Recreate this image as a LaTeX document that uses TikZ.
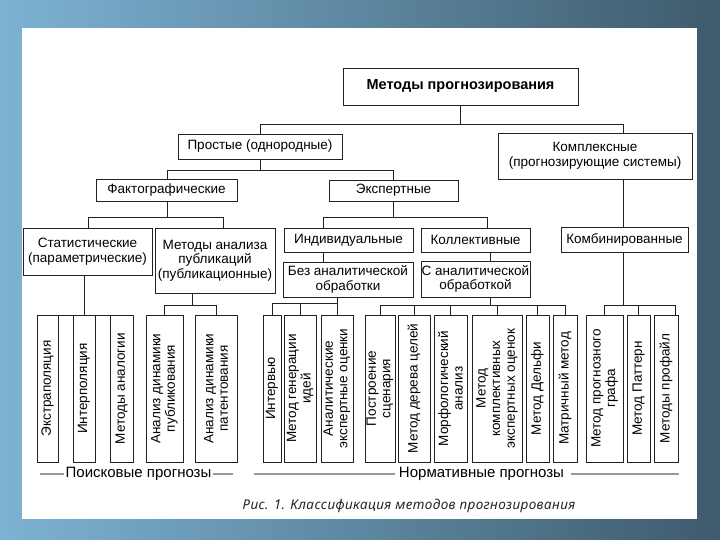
\documentclass[tikz,border=0pt]{standalone}
\usepackage{fontspec}
\setmainfont{Liberation Sans}
\newfontfamily\capfont{Noto Sans}[LetterSpace=3]
\definecolor{bgl}{HTML}{7DB2D4}
\definecolor{bgd}{HTML}{3E5B6C}
\definecolor{ln}{HTML}{222222}
\newcommand{\mf}{\fontsize{13.5}{14.5}\selectfont}
\newcommand{\blf}{\fontsize{15}{16}\selectfont}
\tikzset{
  box/.style={draw=ln, line width=0.8pt, fill=white, inner sep=0pt, outer sep=0pt, align=center, font=\mf},
  leafbox/.style={draw=ln, line width=0.8pt, fill=white, inner sep=0pt, outer sep=0pt},
  leaftext/.style={rotate=90, align=center, font=\mf, inner sep=0pt},
  conn/.style={draw=ln, line width=0.8pt},
  grayline/.style={draw=black!40, line width=1.6pt},
  bottomlabel/.style={font=\blf, inner sep=1pt}
}
% box by corners: name, x1, y1, x2, y2, text
\newcommand{\bx}[6]{\node[box, minimum width={(#4-#2)*1pt}, minimum height={(#5-#3)*1pt}] (#1) at ({(#2+#4)/2},{(#3+#5)/2}) {#6};}
% leaf by x-range: name, x1, x2, text
\newcommand{\lf}[4]{\node[leafbox, minimum width={(#3-#2)*1pt}, minimum height=147pt, label={[leaftext]center:{#4}}] (#1) at ({(#2+#3)/2},388.5) {};}
\begin{document}
\begin{tikzpicture}[x=1pt,y=-1pt]
\useasboundingbox (0,0) rectangle (720,540);
\shade[left color=bgl, right color=bgd] (0,0) rectangle (720,540);
\fill[white] (22,28) rectangle (697,519);

\bx{top}{343}{68}{578}{105}{\fontsize{14.5}{15}\selectfont\bfseries Методы прогнозирования}
\bx{prost}{178}{134}{342}{159}{Простые (однородные)}
\bx{kompl}{498}{133}{692}{179}{Комплексные\\(прогнозирующие системы)}
\bx{fakt}{96}{179}{237}{201}{Фактографические}
\bx{expert}{329}{180}{458}{201}{Экспертные}
\bx{stat}{23}{228}{152}{275}{Статистические\\(параметрические)}
\bx{publ}{155}{228}{275}{293}{Методы анализа\\публикаций\\(публикационные)}
\bx{indiv}{284}{228}{413}{252}{Индивидуальные}
\bx{koll}{421}{228}{530}{252}{Коллективные}
\bx{kombin}{561}{227}{688}{252}{Комбинированные}
\bx{bez}{283}{262}{413}{297}{Без аналитической\\обработки}
\bx{sanal}{421}{261}{530}{297}{С аналитической\\обработкой}

\lf{L1}{37}{58}{Экстраполяция}
\lf{L2}{73}{95}{Интерполяция}
\lf{L3}{110}{133}{Методы аналогии}
\lf{L4}{146}{183}{Анализ динамики\\публикования}
\lf{L5}{195}{237}{Анализ динамики\\патентования}
\lf{L6}{263}{281}{Интервью}
\lf{L7}{284}{316}{Метод генерации\\идей}
\lf{L8}{321}{353}{Аналитические\\экспертные оценки}
\lf{L9}{365}{395}{Построение\\сценария}
\lf{L10}{398}{430}{Метод дерева целей}
\lf{L11}{434}{467}{Морфологический\\анализ}
\lf{L12}{472}{522}{Метод\\комплективных\\экспертных оценок}
\lf{L13}{526}{549}{Метод Дельфи}
\lf{L14}{553}{577}{Матричный метод}
\lf{L15}{586}{623}{Метод прогнозного\\графа}
\lf{L16}{627}{650}{Метод Паттерн}
\lf{L17}{654}{678}{Методы профайл}

% level 1
\coordinate (a1) at (260,124);
\coordinate (a2) at (623,124);
\draw[conn] (top.south) -- (top.south |- a1);
\draw[conn] (prost.north) -- (a1) -- (a2) -- (a2 |- kompl.north);
% level 2
\coordinate (b1) at (167,170);
\coordinate (b2) at (393,170);
\draw[conn] (prost.south) -- (prost.south |- b1);
\draw[conn] (fakt.north -| b1) -- (b1) -- (b2) -- (expert.north -| b2);
% fakt children
\coordinate (c1) at (88,217);
\coordinate (c2) at (223,217);
\draw[conn] (fakt.south -| b1) -- (b1 |- c1);
\draw[conn] (stat.north -| c1) -- (c1) -- (c2) -- (publ.north -| c2);
% expert children
\coordinate (d1) at (323,217);
\coordinate (d2) at (487,217);
\draw[conn] (expert.south -| b2) -- (b2 |- d1);
\draw[conn] (indiv.north -| d1) -- (d1) -- (d2) -- (koll.north -| d2);
\draw[conn] (indiv.south -| d1) -- (bez.north -| d1);
\coordinate (e1) at (490,252);
\draw[conn] (koll.south -| e1) -- (sanal.north -| e1);
\draw[conn] (kompl.south -| a2) -- (kombin.north -| a2);
% leaves of stat
\draw[conn] (stat.south -| L2.north) -- (L2.north);
\draw[conn] (L1.north west) -- (L3.north east);
% leaves of publ
\coordinate (f1) at (192,305);
\draw[conn] (publ.south -| f1) -- (f1);
\draw[conn] (L4.north) -- (L4.north |- f1) -- (L5.north |- f1) -- (L5.north);
% leaves of bez
\coordinate (g1) at (337,303);
\draw[conn] (bez.south -| g1) -- (g1);
\draw[conn] (L6.north) -- (L6.north |- g1) -- (g1) -- (L8.north);
\draw[conn] (L7.north) -- (L7.north |- g1);
% leaves of sanal
\coordinate (h1) at (490,305);
\draw[conn] (sanal.south -| h1) -- (h1);
\draw[conn] (L9.north) -- (L9.north |- h1) -- (L14.north |- h1) -- (L14.north);
\foreach \n in {L10,L11,L12,L13} \draw[conn] (\n.north) -- (\n.north |- h1);
% leaves of kombin
\coordinate (k1) at (623,305);
\coordinate (k2) at (675,305);
\draw[conn] (kombin.south -| k1) -- (k1);
\draw[conn] (L15.north) -- (L15.north |- k1) -- (k2) -- (k2 |- L17.north);
\draw[conn] (L16.north) -- (L16.north |- k1);

% bottom labels
\node[bottomlabel] (poisk) at (138.5,474) {Поисковые прогнозы};
\coordinate (p1) at (40,474);
\coordinate (p2) at (233,474);
\draw[grayline] (p1) -- (poisk.west);
\draw[grayline] (poisk.east) -- (p2);
\node[bottomlabel] (norm) at (481.5,474) {Нормативные прогнозы};
\coordinate (n1) at (254,474);
\coordinate (n2) at (679,474);
\draw[grayline] (n1) -- ([xshift=-3pt]norm.west);
\draw[grayline] ([xshift=6pt]norm.east) -- (n2);

\node[font={\capfont\itshape\fontsize{13.5}{14}\selectfont}, text=black!85] (cap) at (409,506) {Рис. 1. Классификация методов прогнозирования};
\end{tikzpicture}
\end{document}
